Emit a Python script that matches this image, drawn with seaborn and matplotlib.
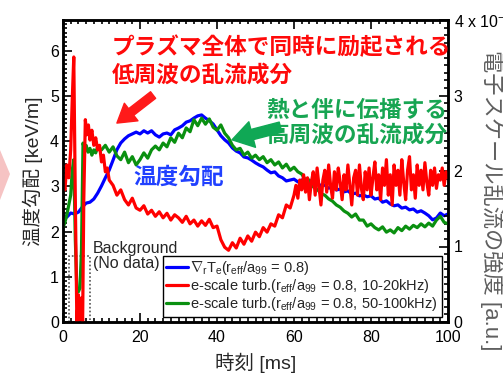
import numpy as np
import matplotlib
matplotlib.use("Agg")
import matplotlib.pyplot as plt
import seaborn as sns
from matplotlib.ticker import MultipleLocator, FixedLocator, FixedFormatter
from matplotlib.patches import Polygon, Rectangle

sns.set_style("ticks")
plt.rcParams["font.family"] = ["Liberation Sans", "Noto Sans CJK JP", "DejaVu Sans"]
plt.rcParams["mathtext.fontset"] = "custom"
plt.rcParams["mathtext.rm"] = "Liberation Sans"
plt.rcParams["mathtext.it"] = "Liberation Sans"
plt.rcParams["mathtext.bf"] = "Liberation Sans:bold"

# ---- temperature gradient (left axis, keV/m), 1 ms samples ----
time_grad = list(range(0, 101))
grad_te = [
    2.37, 2.32, 2.41, 2.39, 2.43, 2.54, 2.63, 2.65, 2.72, 2.85,
    3.01, 3.19, 3.36, 3.58, 3.81, 3.96, 4.05, 4.12, 4.16, 4.20,
    4.16, 4.23, 4.18, 4.23, 4.14, 4.09, 4.16, 4.18, 4.14, 4.25,
    4.29, 4.34, 4.42, 4.45, 4.51, 4.56, 4.58, 4.51, 4.45, 4.38,
    4.25, 4.12, 4.03, 3.96, 3.85, 3.78, 3.74, 3.65, 3.63, 3.58,
    3.52, 3.47, 3.43, 3.36, 3.30, 3.32, 3.23, 3.19, 3.12, 3.14,
    3.16, 3.10, 3.14, 3.05, 3.10, 3.03, 3.08, 3.01, 3.03, 2.96,
    2.99, 2.92, 2.94, 2.88, 2.90, 2.83, 2.85, 2.79, 2.81, 2.77,
    2.79, 2.72, 2.74, 2.65, 2.68, 2.61, 2.57, 2.59, 2.52, 2.54,
    2.48, 2.50, 2.43, 2.46, 2.41, 2.35, 2.26, 2.30, 2.41, 2.35,
    2.39,
]

# ---- e-scale turbulence 10-20 kHz (right axis, a.u.) ----
time_low = (
    [0, 0.5, 1, 1.5, 2, 2.4, 2.8, 3.2, 3.6, 4.0, 4.4, 4.8, 5.1, 5.4, 5.8,
     6.2, 6.6, 7, 7.5, 8, 8.5, 9, 9.5, 10, 10.5, 11, 11.5, 12]
    + list(range(13, 60))
    + list(np.arange(60, 100.5, 0.5))
)
turb_low = [
    1.88, 1.75, 2.08, 1.91, 2.28, 2.94, 3.51, 1.62, 0.00, 0.36,
    0.03, 0.32, 0.00, 1.62, 2.68, 2.48, 2.61, 2.41, 2.54, 2.34,
    2.44, 2.28, 2.34, 2.12, 2.21, 1.99, 2.04, 1.88,
    # 13 .. 59 ms
    1.81, 1.68, 1.75, 1.62, 1.55, 1.64, 1.51, 1.48, 1.54, 1.43,
    1.48, 1.40, 1.46, 1.38, 1.44, 1.35, 1.42, 1.38, 1.32, 1.40,
    1.30, 1.35, 1.27, 1.34, 1.28, 1.36, 1.25, 1.27, 1.09, 0.99,
    0.95, 1.05, 0.98, 1.11, 1.03, 1.14, 1.07, 1.19, 1.13, 1.25,
    1.19, 1.30, 1.27, 1.42, 1.38, 1.55, 1.51,
    # 60 .. 100 ms, 0.5 ms samples
    1.68, 1.81, 1.64, 1.88, 1.75, 1.95, 1.72, 1.91, 1.62, 1.85,
    1.99, 1.68, 2.04, 1.80, 1.55, 1.88, 2.01, 1.72, 2.08, 1.81,
    1.64, 1.99, 1.75, 2.04, 1.85, 1.62, 1.95, 1.75, 2.08, 1.81,
    1.55, 1.91, 2.01, 1.68, 2.08, 1.77, 1.62, 1.99, 1.75, 2.04,
    1.68, 1.91, 2.12, 1.75, 1.95, 1.62, 2.04, 1.81, 2.15, 1.68,
    1.95, 1.55, 2.08, 1.81, 2.01, 1.68, 2.15, 1.85, 1.62, 2.01,
    2.19, 1.75, 1.95, 1.64, 2.08, 1.81, 2.01, 1.75, 2.11, 1.85,
    1.68, 2.01, 1.81, 2.04, 1.77, 1.95, 1.88, 2.04, 1.81, 1.99,
    1.91,
]

# ---- e-scale turbulence 50-100 kHz (right axis, a.u.) ----
time_high = (
    [0, 0.5, 1, 1.5, 2, 2.4, 2.8, 3.2, 3.6, 4.0, 4.4, 4.8, 5.2, 5.6, 6,
     6.5, 7, 7.5, 8, 8.5, 9, 9.5, 10, 11, 12]
    + list(range(13, 101))
)
turb_high = [
    1.25, 1.32, 1.42, 1.55, 1.68, 2.01, 2.15, 1.09, 0.42, 0.40,
    0.45, 0.95, 2.37, 2.28, 2.34, 2.25, 2.30, 2.21, 2.28, 2.24,
    2.32, 2.28, 2.28, 2.34, 2.25,
    # 13 .. 100 ms
    2.32, 2.20, 2.15, 2.25, 2.11, 2.19, 2.08, 2.15, 2.24, 2.17,
    2.28, 2.33, 2.28, 2.37, 2.32, 2.44, 2.38, 2.50, 2.44, 2.57,
    2.52, 2.68, 2.60, 2.70, 2.62, 2.69, 2.58, 2.54, 2.61, 2.50,
    2.44, 2.34, 2.28, 2.30, 2.21, 2.25, 2.17, 2.21, 2.15, 2.19,
    2.11, 2.15, 2.08, 2.12, 2.04, 2.09, 2.01, 2.05, 1.99, 1.96,
    1.88, 1.88, 1.79, 1.76, 1.70, 1.68, 1.63, 1.60, 1.55, 1.52,
    1.47, 1.44, 1.39, 1.43, 1.35, 1.35, 1.27, 1.30, 1.25, 1.22,
    1.26, 1.19, 1.22, 1.18, 1.25, 1.21, 1.27, 1.23, 1.28, 1.25,
    1.30, 1.26, 1.31, 1.27, 1.35, 1.40, 1.32, 1.30,
]

labels = [
    r"$\nabla_{r}T_{e}(r_{eff}/a_{99}$ = 0.8)",
    r"e-scale turb.($r_{eff}/a_{99}$ = 0.8, 10-20kHz)",
    r"e-scale turb.($r_{eff}/a_{99}$ = 0.8, 50-100kHz)",
]
colors = ["#0000ff", "#ff0000", "#0a9010"]
right_ticks = [0, 1, 2, 3, 4]
right_ticklabels = ["0", "1", "2", "3", r"4 x 10$^{-4}$"]

W, H = 503, 373
fig = plt.figure(figsize=(W / 100, H / 100), dpi=100)
ax = fig.add_axes([63 / W, 1 - 322 / H, 385 / W, 302 / H])
ax2 = ax.twinx()

lw = 2.3
sns.lineplot(x=time_grad, y=grad_te, ax=ax, color=colors[0], lw=lw,
             estimator=None, sort=False, legend=False)
sns.lineplot(x=time_high, y=turb_high, ax=ax2, color=colors[2], lw=lw,
             estimator=None, sort=False, legend=False)
sns.lineplot(x=time_low, y=turb_low, ax=ax2, color=colors[1], lw=lw,
             estimator=None, sort=False, legend=False)

h_grad = ax.lines[0]
h_high, h_low = ax2.lines[0], ax2.lines[1]
for h, lab in zip([h_grad, h_low, h_high], labels):
    h.set_label(lab)

ax.set_xlim(0, 100)
ax.set_ylim(0, 6.68)
ax2.set_ylim(0, 4)

# axes, ticks
for a in (ax, ax2):
    for s in a.spines.values():
        s.set_linewidth(1.8)
        s.set_color("black")
ax.xaxis.set_major_locator(MultipleLocator(20))
ax.xaxis.set_minor_locator(MultipleLocator(2))
ax.yaxis.set_major_locator(MultipleLocator(1))
ax.yaxis.set_minor_locator(MultipleLocator(0.1))
ax2.yaxis.set_major_locator(FixedLocator(right_ticks))
ax2.yaxis.set_major_formatter(FixedFormatter(right_ticklabels))
ax2.yaxis.set_minor_locator(MultipleLocator(0.1))

ax.tick_params(which="both", direction="in", top=True, right=False,
               width=1.2, labelsize=11.5, pad=6, colors="black")
ax.tick_params(which="major", length=6.5)
ax.tick_params(which="minor", length=3.2)
ax.tick_params(axis="y", pad=3)
ax2.tick_params(which="both", direction="in", width=1.2, labelsize=11.5,
                pad=4, colors="black")
ax2.tick_params(which="major", length=6.5)
ax2.tick_params(which="minor", length=3.2)

ax.set_xlabel("時刻 [ms]", fontsize=14, labelpad=5)
ax.set_ylabel("温度勾配 [keV/m]", fontsize=14, labelpad=5)
fig.text(492 / W, 1 - 200 / H, "電子スケール乱流の強度 [a.u.]", rotation=-90,
         ha="center", va="center", fontsize=16, color="#5f5f5f")

# background (no data) region
ax.add_patch(Rectangle((1.5, 0), 5.5, 1.46, fill=False, ls=(0, (1, 1.3)),
                       ec="#555555", lw=1.2, zorder=1))
ax.text(7.8, 1.45, "Background\n(No data)", fontsize=11.5, ha="left",
        va="center", linespacing=1.0)

# annotations
red_txt = "#ff0a0a"
green_txt = "#17a552"
blue_txt = "#2040ff"
ax2.text(12.7, 6.08, "プラズマ全体で同時に励起される", transform=ax.transData,
         fontsize=16.3, color=red_txt, fontweight="bold", ha="left", va="center")
ax2.text(12.7, 5.46, "低周波の乱流成分", transform=ax.transData,
         fontsize=16.3, color=red_txt, fontweight="bold", ha="left", va="center")
ax2.text(99.9, 4.69, "熱と伴に伝播する", transform=ax.transData,
         fontsize=16.3, color=green_txt, fontweight="bold", ha="right", va="center")
ax2.text(99.9, 4.14, "高周波の乱流成分", transform=ax.transData,
         fontsize=16.3, color=green_txt, fontweight="bold", ha="right", va="center")
ax2.text(18.2, 3.21, "温度勾配", transform=ax.transData,
         fontsize=16.3, color=blue_txt, fontweight="bold", ha="left", va="center")

ax2.annotate("", xy=(14.0, 4.40), xytext=(23.4, 5.02),
             xycoords=ax.transData, textcoords=ax.transData,
             arrowprops=dict(arrowstyle="simple,head_length=1.3,head_width=1.6,tail_width=0.6",
                             color="#ff1a1a", mutation_scale=10, shrinkA=0, shrinkB=0))
ax2.annotate("", xy=(43.9, 4.03), xytext=(56.5, 4.31),
             xycoords=ax.transData, textcoords=ax.transData,
             arrowprops=dict(arrowstyle="simple,head_length=1.5,head_width=1.9,tail_width=0.75",
                             color="#10a855", mutation_scale=10, shrinkA=0, shrinkB=0))

leg = ax2.legend(handles=[h_grad, h_low, h_high], loc="lower right",
                 bbox_to_anchor=(0.984, 0.017), borderaxespad=0, fontsize=10.5,
                 frameon=True, fancybox=False, framealpha=1, edgecolor="black",
                 handlelength=1.5, handletextpad=0.15, labelspacing=0.0,
                 borderpad=0.25)
leg.get_frame().set_linewidth(1.0)

# partial pink pointer at the left edge
fig.patches.append(Polygon([(0, 1 - 150 / H), (10 / W, 1 - 174 / H), (0, 1 - 200 / H)],
                           closed=True, transform=fig.transFigure,
                           fc="#f6c3c3", ec="none", zorder=0))

fig.savefig("out.png", dpi=100)
